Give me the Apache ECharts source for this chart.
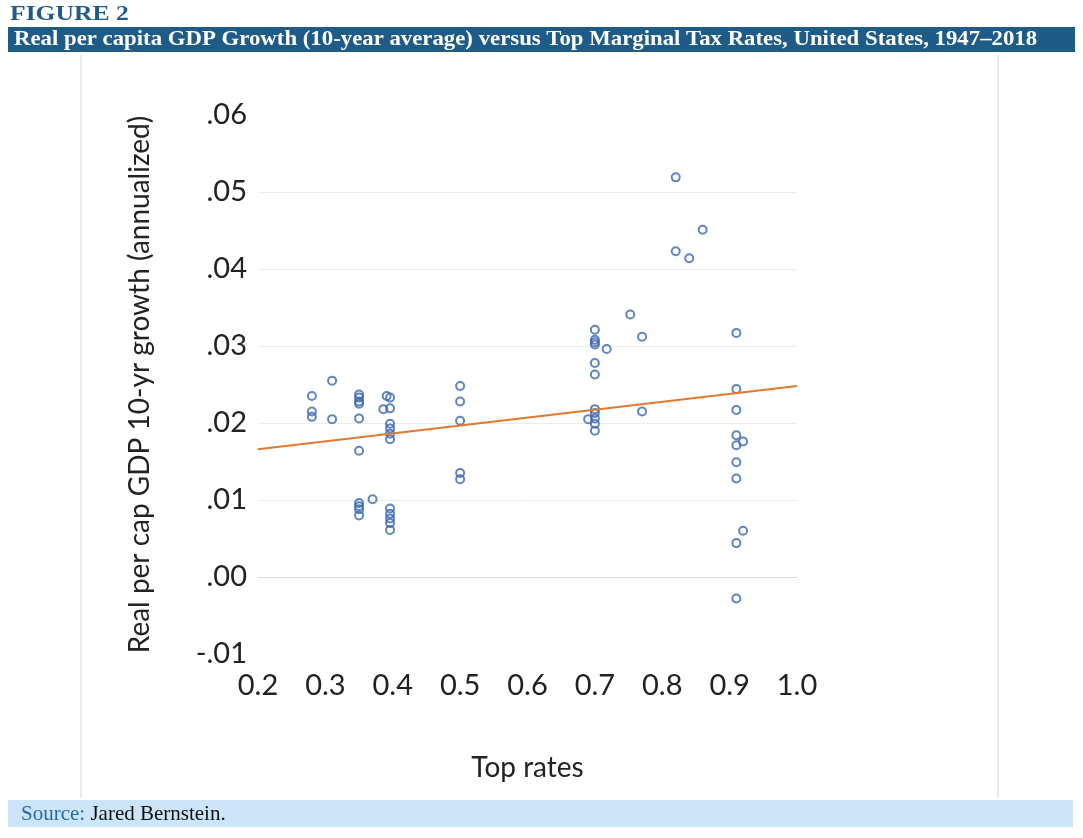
<!DOCTYPE html>
<html>
<head>
<meta charset="utf-8">
<script src="https://cdn.jsdelivr.net/npm/echarts@6/dist/echarts.min.js"></script>
<style>
html,body{margin:0;padding:0;background:#fff;}
#chart{width:1083px;height:838px;}
</style>
</head>
<body>
<div id="chart"></div>
<script>
// Top marginal tax rate (x) for each year's observation
var taxRates = [
  0.28, 0.28, 0.28,
  0.31, 0.31,
  0.35, 0.35, 0.35, 0.35, 0.35, 0.35, 0.35, 0.35, 0.35, 0.35,
  0.37,
  0.386, 0.391,
  0.396, 0.396, 0.396, 0.396, 0.396, 0.396, 0.396, 0.396, 0.396, 0.396, 0.396,
  0.50, 0.50, 0.50, 0.50, 0.50,
  0.69,
  0.70, 0.70, 0.70, 0.70, 0.70, 0.70, 0.70, 0.70, 0.70, 0.70, 0.70,
  0.7175, 0.7525, 0.77, 0.77,
  0.82, 0.82, 0.84, 0.86,
  0.91, 0.91, 0.91, 0.91, 0.91, 0.91, 0.91, 0.91, 0.91,
  0.92, 0.92
];
// Real per capita GDP 10-yr growth (annualized), same order as taxRates
var growth = [
  0.0235, 0.0215, 0.0208,
  0.0255, 0.0205,
  0.0237, 0.0233, 0.0228, 0.0225, 0.0206, 0.0164, 0.0096, 0.0092, 0.0088, 0.0080,
  0.0101,
  0.0218, 0.0235,
  0.0233, 0.0219, 0.0199, 0.0193, 0.0186, 0.0179, 0.0089, 0.0082, 0.0076, 0.0070, 0.0061,
  0.0248, 0.0228, 0.0203, 0.0135, 0.0127,
  0.0205,
  0.0321, 0.0308, 0.0305, 0.0302, 0.0278, 0.0263, 0.0218, 0.0213, 0.0206, 0.0199, 0.0190,
  0.0296, 0.0341, 0.0312, 0.0215,
  0.0519, 0.0423, 0.0414, 0.0451,
  0.0317, 0.0244, 0.0217, 0.0184, 0.0171, 0.0149, 0.0128, 0.0044, -0.0028,
  0.0176, 0.0060
];
// Linear trend line end points
var trendX = [0.2, 1.0];
var trendY = [0.0166, 0.0248];

var xTickLabels = ['0.2','0.3','0.4','0.5','0.6','0.7','0.8','0.9','1.0'];
var yTickLabels = ['-.01','.00','.01','.02','.03','.04','.05','.06'];

var figureLabel = 'FIGURE 2';
var titleText = 'Real per capita GDP Growth (10-year average) versus Top Marginal Tax Rates, United States, 1947\u20132018';
var xAxisTitle = 'Top rates';
var yAxisTitle = 'Real per cap GDP 10-yr growth (annualized)';
var sourceLabel = 'Source:';
var sourceText = ' Jared Bernstein.';

var scatterData = taxRates.map(function (x, i) { return [x, growth[i]]; });
var trendData = trendX.map(function (x, i) { return [x, trendY[i]]; });

var serif = '"Liberation Serif", "DejaVu Serif", serif';
var sans = 'Lato, "Open Sans", sans-serif';

var chart = echarts.init(document.getElementById('chart'), null, {renderer: 'canvas'});
chart.setOption({
  backgroundColor: '#ffffff',
  animation: false,
  grid: {left: 258, right: 286, top: 115, bottom: 184, containLabel: false},
  xAxis: {
    type: 'value', min: 0.2, max: 1.0, interval: 0.1,
    axisLine: {show: false}, axisTick: {show: false}, splitLine: {show: false},
    axisLabel: {
      margin: 17, color: '#222', fontFamily: sans, fontSize: 29,
      formatter: function (v) { var i = Math.round((v - 0.2) / 0.1); return xTickLabels[i]; }
    },
    name: xAxisTitle, nameLocation: 'middle', nameGap: 100,
    nameTextStyle: {color: '#222', fontFamily: sans, fontSize: 28}
  },
  yAxis: {
    type: 'value', min: -0.01, max: 0.06, interval: 0.01,
    axisLine: {show: false}, axisTick: {show: false},
    splitLine: {show: true, lineStyle: {color: ['transparent', '#dcdcdc', '#ececec', '#ececec', '#ececec', '#ececec', '#ececec', 'transparent'], width: 1}},
    axisLabel: {
      margin: 11, color: '#222', fontFamily: sans, fontSize: 29,
      formatter: function (v) { var i = Math.round((v + 0.01) / 0.01); return yTickLabels[i]; }
    },
    name: yAxisTitle, nameLocation: 'middle', nameGap: 104, nameRotate: 90,
    nameTextStyle: {color: '#222', fontFamily: sans, fontSize: 28}
  },
  series: [
    {
      type: 'scatter', data: scatterData, symbol: 'circle', symbolSize: 8,
      itemStyle: {color: 'rgba(255,255,255,0)', borderColor: '#3866b2', borderWidth: 2},
      z: 2
    },
    {
      type: 'line', data: trendData, showSymbol: false, symbol: 'none',
      lineStyle: {color: '#e0792e', width: 2}, z: 3, silent: true
    }
  ],
  graphic: [
    {type: 'line', shape: {x1: 81, y1: 55, x2: 81, y2: 798}, style: {stroke: '#d6d6d6', lineWidth: 1}},
    {type: 'line', shape: {x1: 998, y1: 55, x2: 998, y2: 798}, style: {stroke: '#d6d6d6', lineWidth: 1}},
    {type: 'text', x: 10, y: 15, scaleX: 1.28, style: {text: figureLabel, fill: '#1f5c8a', font: 'bold 20px ' + serif, textVerticalAlign: 'middle'}},
    {type: 'rect', shape: {x: 8, y: 27, width: 1067, height: 25}, style: {fill: '#1f5b87'}},
    {type: 'text', x: 14, y: 40, scaleX: 1.085, style: {text: titleText, fill: '#ffffff', font: 'bold 21px ' + serif, textVerticalAlign: 'middle'}},
    {type: 'rect', shape: {x: 8, y: 800, width: 1065, height: 27}, style: {fill: '#cde5f8'}},
    {type: 'text', x: 21, y: 814, style: {
      rich: {s: {fill: '#2a6d9c', font: '21px ' + serif}, t: {fill: '#111', font: '21px ' + serif}},
      text: '{s|' + sourceLabel + '}{t|' + sourceText + '}', textVerticalAlign: 'middle'}}
  ]
});
</script>
</body>
</html>
